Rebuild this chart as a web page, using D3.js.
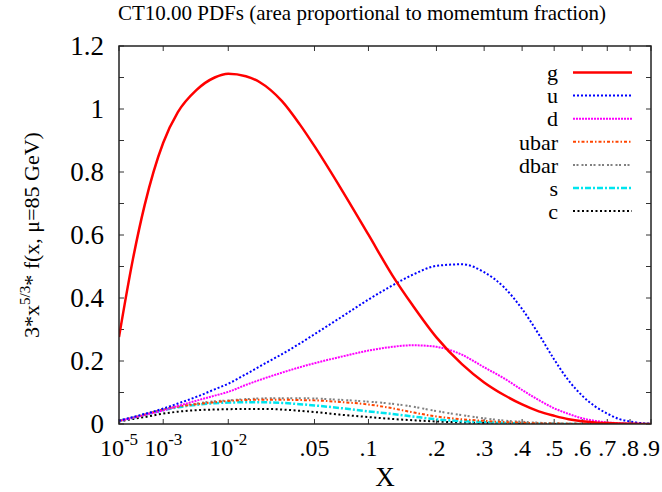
<!DOCTYPE html>
<html>
<head>
<meta charset="utf-8">
<script src="https://cdn.jsdelivr.net/npm/d3@7"></script>
<style>
  body { margin: 0; background: #fff; }
  text { font-family: "Liberation Serif", "Times New Roman", Times, serif; fill: #000; }
</style>
</head>
<body>
<div id="chart"></div>
<script>
// momentum fraction grid
const xGrid = [1e-5, 1e-4, 3e-4, 1e-3, 2e-3, 4e-3, 7e-3, 0.01, 0.015, 0.02, 0.03, 0.04, 0.05, 0.07,
  0.1, 0.13, 0.16, 0.2, 0.25, 0.3, 0.35, 0.4, 0.45, 0.5, 0.55, 0.6, 0.65, 0.7, 0.75, 0.8, 0.85, 0.9];

// 3*x^(5/3)*f(x)
const gVals = [0.276, 0.525, 0.694, 0.893, 0.99, 1.06, 1.10, 1.112, 1.104, 1.085, 1.025, 0.952, 0.882, 0.757,
  0.601, 0.472, 0.376, 0.275, 0.19, 0.132, 0.092, 0.062, 0.040, 0.026, 0.015, 0.0085, 0.005, 0.003, 0.0016, 0.0008, 0.0003, 0.0001];
const uVals = [0.010, 0.022, 0.032, 0.049, 0.065, 0.086, 0.110, 0.128, 0.158, 0.183, 0.222, 0.255, 0.285, 0.335,
  0.395, 0.440, 0.474, 0.502, 0.507, 0.482, 0.434, 0.365, 0.285, 0.205, 0.138, 0.090, 0.056, 0.033, 0.016, 0.008, 0.003, 0.001];
const dVals = [0.010, 0.020, 0.029, 0.043, 0.057, 0.074, 0.090, 0.102, 0.124, 0.140, 0.163, 0.180, 0.193, 0.212,
  0.233, 0.245, 0.250, 0.245, 0.220, 0.180, 0.145, 0.108, 0.076, 0.050, 0.032, 0.018, 0.010, 0.005, 0.0025, 0.001, 0.0005, 0.0002];
const ubarVals = [0.010, 0.020, 0.029, 0.046, 0.055, 0.063, 0.069, 0.073, 0.076, 0.077, 0.077, 0.076, 0.075, 0.070,
  0.062, 0.050, 0.037, 0.024, 0.015, 0.010, 0.006, 0.004, 0.002, 0.0015, 0.001, 0.0005, 0.0003, 0.0002, 0.0001, 0.0001, 0, 0];
const dbarVals = [0.010, 0.021, 0.030, 0.046, 0.056, 0.065, 0.072, 0.075, 0.079, 0.081, 0.082, 0.082, 0.081, 0.077,
  0.071, 0.064, 0.055, 0.041, 0.028, 0.018, 0.011, 0.007, 0.004, 0.0025, 0.0015, 0.001, 0.0005, 0.0003, 0.0002, 0.0001, 0, 0];
const sVals = [0.010, 0.020, 0.029, 0.044, 0.053, 0.061, 0.066, 0.068, 0.069, 0.069, 0.067, 0.063, 0.059, 0.051,
  0.040, 0.032, 0.024, 0.015, 0.009, 0.006, 0.003, 0.002, 0.001, 0.0005, 0.0003, 0.0002, 0.0001, 0, 0, 0, 0, 0];
const cVals = [0.008, 0.016, 0.022, 0.033, 0.039, 0.044, 0.046, 0.047, 0.048, 0.048, 0.046, 0.042, 0.038, 0.030,
  0.022, 0.016, 0.012, 0.008, 0.005, 0.003, 0.002, 0.001, 0.0005, 0.0003, 0.0001, 0, 0, 0, 0, 0, 0, 0];

const seriesNames = ["g", "u", "d", "ubar", "dbar", "s", "c"];
const seriesVals = [gVals, uVals, dVals, ubarVals, dbarVals, sVals, cVals];
const seriesColors = ["#ff0000", "#0000ff", "#ff00ff", "#ff4500", "#808080", "#00e5ee", "#000000"];
const seriesDash = [null, "2,2", "2,1", "3,2,1.5,2", "2,1.5,2,3", "6,2,2,2", "2,2.5"];
const seriesWidth = [2.5, 2, 2, 2, 2, 2.5, 2];

const xTicks = [1e-5, 1e-3, 1e-2, 0.05, 0.1, 0.2, 0.3, 0.4, 0.5, 0.6, 0.7, 0.8, 0.9];
const yTicks = [0, 0.2, 0.4, 0.6, 0.8, 1, 1.2];
const yMinor = d3.range(0, 1.21, 0.1);

const width = 662, height = 492;
const margin = {top: 46, right: 11, bottom: 68, left: 119};

let svg = d3.select("#chart").append("svg")
    .attr("width", width)
    .attr("height", height)
    .attr("font-family", "Liberation Serif, Times New Roman, Times, serif");

let x = d3.scalePow().exponent(1/3)
    .domain([1e-5, 0.9])
    .range([margin.left, width - margin.right]);
let y = d3.scaleLinear()
    .domain([0, 1.2])
    .range([height - margin.bottom, margin.top]);

let x0 = x.range()[0], x1 = x.range()[1];
let y0 = y.range()[0], y1 = y.range()[1];

// ticks (inward, mirrored on all sides)
let tickLen = 5;
let tk = svg.append("g").attr("stroke", "#333").attr("stroke-width", 1);
xTicks.forEach(v => {
  tk.append("line").attr("x1", x(v)).attr("x2", x(v)).attr("y1", y0).attr("y2", y0 - tickLen);
  tk.append("line").attr("x1", x(v)).attr("x2", x(v)).attr("y1", y1).attr("y2", y1 + tickLen);
});
yMinor.forEach(v => {
  tk.append("line").attr("x1", x0).attr("x2", x0 + tickLen).attr("y1", y(v)).attr("y2", y(v));
  tk.append("line").attr("x1", x1).attr("x2", x1 - tickLen).attr("y1", y(v)).attr("y2", y(v));
});

// curves
let line = d3.line()
    .x(d => x(d[0]))
    .y(d => y(d[1]))
    .curve(d3.curveMonotoneX);

svg.append("clipPath").attr("id", "clip")
  .append("rect").attr("x", x0).attr("y", y1).attr("width", x1 - x0).attr("height", y0 - y1);

let plot = svg.append("g").attr("clip-path", "url(#clip)");
// draw back-to-front so gluon sits on top
for (let i = seriesNames.length - 1; i >= 0; i--) {
  let pts = xGrid.map((xv, j) => [xv, seriesVals[i][j]]);
  plot.append("path")
    .attr("d", line(pts))
    .attr("fill", "none")
    .attr("stroke", seriesColors[i])
    .attr("stroke-width", seriesWidth[i])
    .attr("stroke-dasharray", seriesDash[i]);
}

// frame
svg.append("rect")
  .attr("x", x0).attr("y", y1)
  .attr("width", x1 - x0).attr("height", y0 - y1)
  .attr("fill", "none").attr("stroke", "#222").attr("stroke-width", 1.5);

// y tick labels
svg.append("g").selectAll("text")
  .data(yTicks).enter().append("text")
  .attr("x", x0 - 15)
  .attr("y", d => y(d))
  .attr("dy", "0.35em")
  .attr("text-anchor", "end")
  .attr("font-size", 27)
  .text(d => d3.format("~g")(d));

// x tick labels
let xl = svg.append("g").selectAll("text")
  .data(xTicks).enter().append("text")
  .attr("x", d => x(d))
  .attr("y", 456)
  .attr("text-anchor", "middle")
  .attr("font-size", 24);
xl.each(function(d) {
  let t = d3.select(this);
  if (d < 0.02) {
    let e = Math.round(Math.log10(d));
    t.append("tspan").text("10");
    t.append("tspan").attr("dy", -11).attr("font-size", 17).text(String(e));
  } else {
    t.text(d3.format(".2~f")(d).replace(/^0/, ""));
  }
});

// axis titles
svg.append("text")
  .attr("x", (x0 + x1) / 2)
  .attr("y", 486)
  .attr("text-anchor", "middle")
  .attr("font-size", 27)
  .text("X");

let yl = svg.append("text")
  .attr("transform", "translate(39," + ((y0 + y1) / 2) + ") rotate(-90)")
  .attr("text-anchor", "middle")
  .attr("font-size", 22);
yl.append("tspan").text("3*x");
yl.append("tspan").attr("dy", -9).attr("font-size", 15).text("5/3");
yl.append("tspan").attr("dy", 9).text("* f(x, \u03bc=85 GeV)");

// title
svg.append("text")
  .attr("x", 362)
  .attr("y", 20)
  .attr("text-anchor", "middle")
  .attr("font-size", 21)
  .text("CT10.00 PDFs (area proportional to momemtum fraction)");

// legend
let leg = svg.append("g");
seriesNames.forEach((n, i) => {
  let ly = 72.5 + i * 23.1;
  leg.append("text")
    .attr("x", 558).attr("y", ly).attr("dy", "0.35em")
    .attr("text-anchor", "end")
    .attr("font-size", 22)
    .text(n);
  leg.append("line")
    .attr("x1", 573).attr("x2", 632).attr("y1", ly).attr("y2", ly)
    .attr("stroke", seriesColors[i])
    .attr("stroke-width", seriesWidth[i])
    .attr("stroke-dasharray", seriesDash[i]);
});
</script>
</body>
</html>
